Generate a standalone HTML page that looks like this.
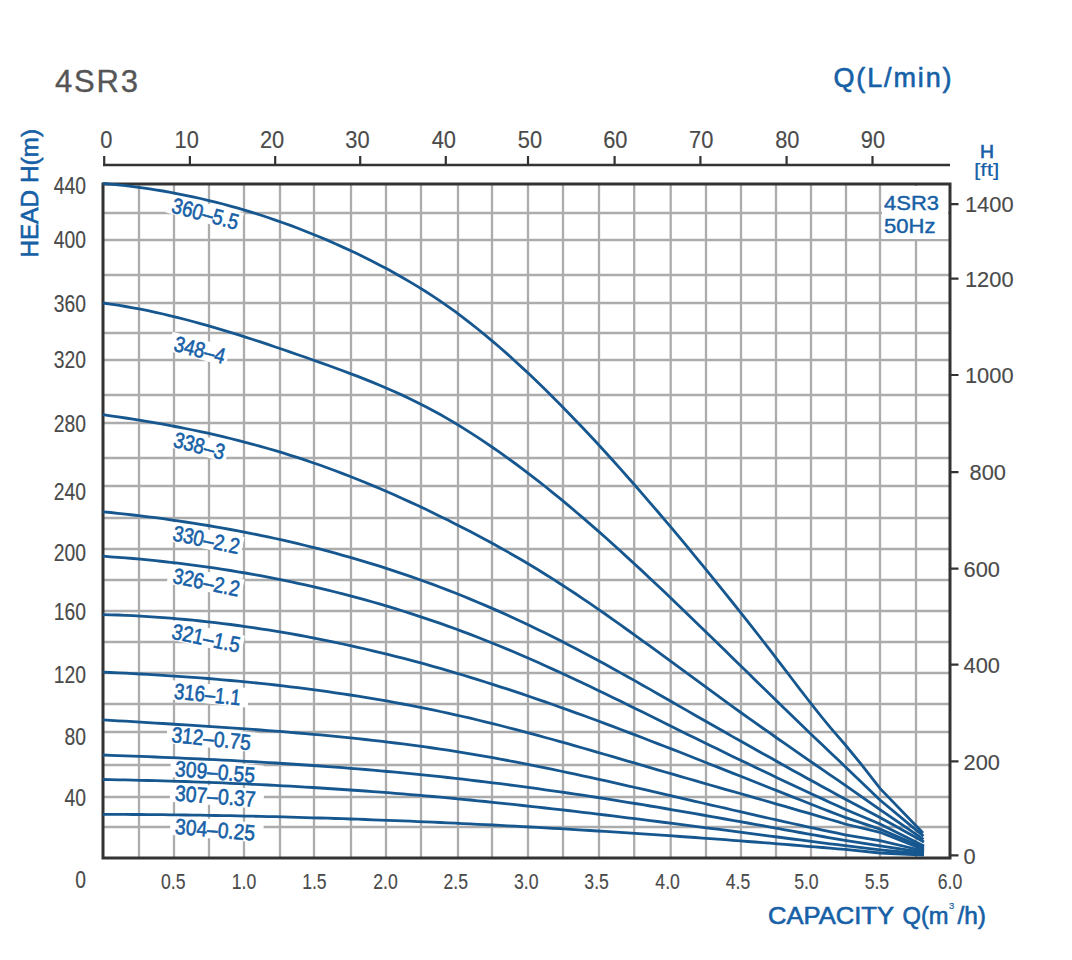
<!DOCTYPE html><html><head><meta charset="utf-8"><style>html,body{margin:0;padding:0;background:#fff;}svg{display:block;}text{font-family:"Liberation Sans",sans-serif;}</style></head><body>
<svg width="1072" height="960" viewBox="0 0 1072 960">
<rect width="1072" height="960" fill="#fff"/>
<path d="M103,213H950 M103,240H950 M103,275H950 M103,303H950 M103,333H950 M103,360H950 M103,395H950 M103,423H950 M103,458H950 M103,486H950 M103,518H950 M103,549H950 M103,580H950 M103,611H950 M103,642H950 M103,673H950 M103,704H950 M103,732H950 M103,765H950 M103,797H950 M103,827H950 M139,184V858 M174,184V858 M209,184V858 M244,184V858 M280,184V858 M314,184V858 M351,184V858 M386,184V858 M421,184V858 M458,184V858 M492,184V858 M528,184V858 M563,184V858 M599,184V858 M634.2,184V858 M670.7,184V858 M706,184V858 M741,184V858 M776,184V858 M811,184V858 M846,184V858 M880,184V858 M916,184V858" stroke="#acacac" stroke-width="2.3" fill="none"/>
<rect x="882" y="186" width="66" height="53" fill="#fff"/>
<g transform="translate(170.5,212.2) rotate(15)"><rect x="-5" y="-18" width="76.2" height="19.5" fill="#fff"/></g><g transform="translate(172.8,350.5) rotate(15)"><rect x="-5" y="-18" width="59.9" height="19.5" fill="#fff"/></g><g transform="translate(172.2,446.4) rotate(15)"><rect x="-5" y="-18" width="60.2" height="19.5" fill="#fff"/></g><g transform="translate(171.8,540.2) rotate(12)"><rect x="-5" y="-18" width="75.5" height="19.5" fill="#fff"/></g><g transform="translate(171.8,582.7) rotate(12)"><rect x="-5" y="-18" width="75.5" height="19.5" fill="#fff"/></g><g transform="translate(170.8,638.4) rotate(12)"><rect x="-5" y="-18" width="77.0" height="19.5" fill="#fff"/></g><g transform="translate(173.6,698.4) rotate(6)"><rect x="-5" y="-18" width="79.6" height="19.5" fill="#fff"/></g><g transform="translate(171.0,742.0) rotate(6)"><rect x="-5" y="-18" width="92.5" height="19.5" fill="#fff"/></g><g transform="translate(174.6,775.9) rotate(5)"><rect x="-5" y="-18" width="93.1" height="19.5" fill="#fff"/></g><g transform="translate(174.6,800.6) rotate(4.5)"><rect x="-5" y="-18" width="93.7" height="19.5" fill="#fff"/></g><g transform="translate(174.6,833.8) rotate(5)"><rect x="-5" y="-18" width="93.1" height="19.5" fill="#fff"/></g>
<rect x="103" y="184" width="847" height="674" fill="none" stroke="#333333" stroke-width="3"/>
<path d="M103.0,183.5 L110.5,184.1 L118.0,184.9 L125.5,185.7 L133.0,186.6 L140.5,187.6 L148.0,188.6 L155.5,189.8 L163.0,191.0 L170.5,192.3 L177.9,193.8 L185.4,195.3 L192.9,196.8 L200.4,198.5 L207.9,200.3 L215.4,202.1 L222.9,204.0 L230.4,206.1 L237.9,208.2 L245.4,210.4 L252.9,212.7 L260.4,215.0 L267.9,217.5 L275.4,220.1 L282.9,222.7 L290.4,225.4 L297.9,228.2 L305.4,231.2 L312.9,234.2 L320.4,237.3 L327.8,240.4 L335.3,243.7 L342.8,247.1 L350.3,250.5 L357.8,254.1 L365.3,257.7 L372.8,261.5 L380.3,265.4 L387.8,269.3 L395.3,273.5 L402.8,277.7 L410.3,282.1 L417.8,286.6 L425.3,291.3 L432.8,296.2 L440.3,301.2 L447.8,306.4 L455.3,311.7 L462.8,317.3 L470.3,323.1 L477.7,329.0 L485.2,335.1 L492.7,341.4 L500.2,347.8 L507.7,354.4 L515.2,361.2 L522.7,368.1 L530.2,375.1 L537.7,382.3 L545.2,389.6 L552.7,397.0 L560.2,404.5 L567.7,412.2 L575.2,420.0 L582.7,427.8 L590.2,435.8 L597.7,443.8 L605.2,452.0 L612.7,460.3 L620.2,468.6 L627.6,477.0 L635.1,485.5 L642.6,494.1 L650.1,502.8 L657.6,511.5 L665.1,520.4 L672.6,529.2 L680.1,538.2 L687.6,547.2 L695.1,556.3 L702.6,565.4 L710.1,574.6 L717.6,583.9 L725.1,593.2 L732.6,602.5 L740.1,611.9 L747.6,621.4 L755.1,630.9 L762.6,640.5 L770.1,650.2 L777.5,659.9 L785.0,669.6 L792.5,679.5 L800.0,689.3 L807.5,699.0 L815.0,708.6 L822.5,718.0 L830.0,727.1 L837.5,735.8 L845.0,744.5 L861.9,765.1 L880.0,788.4 L923.0,833.0" stroke="#16578f" stroke-width="2.8" fill="none"/>
<path d="M103.0,303.0 L110.5,304.1 L118.0,305.2 L125.5,306.5 L133.0,307.8 L140.5,309.2 L148.0,310.7 L155.5,312.3 L163.0,314.0 L170.5,315.8 L177.9,317.6 L185.4,319.5 L192.9,321.5 L200.4,323.6 L207.9,325.7 L215.4,327.9 L222.9,330.1 L230.4,332.4 L237.9,334.7 L245.4,337.1 L252.9,339.5 L260.4,341.9 L267.9,344.4 L275.4,347.0 L282.9,349.5 L290.4,352.1 L297.9,354.7 L305.4,357.3 L312.9,360.0 L320.4,362.6 L327.8,365.3 L335.3,368.0 L342.8,370.8 L350.3,373.6 L357.8,376.4 L365.3,379.4 L372.8,382.4 L380.3,385.5 L387.8,388.7 L395.3,392.0 L402.8,395.4 L410.3,399.0 L417.8,402.7 L425.3,406.5 L432.8,410.5 L440.3,414.6 L447.8,418.9 L455.3,423.3 L462.8,427.9 L470.3,432.6 L477.7,437.4 L485.2,442.4 L492.7,447.5 L500.2,452.7 L507.7,458.1 L515.2,463.5 L522.7,469.1 L530.2,474.8 L537.7,480.6 L545.2,486.5 L552.7,492.6 L560.2,498.7 L567.7,504.9 L575.2,511.2 L582.7,517.6 L590.2,524.1 L597.7,530.6 L605.2,537.3 L612.7,544.0 L620.2,550.8 L627.6,557.6 L635.1,564.5 L642.6,571.4 L650.1,578.5 L657.6,585.5 L665.1,592.6 L672.6,599.8 L680.1,606.9 L687.6,614.2 L695.1,621.4 L702.6,628.7 L710.1,635.9 L717.6,643.2 L725.1,650.6 L732.6,657.9 L740.1,665.2 L747.6,672.5 L755.1,679.9 L762.6,687.2 L770.1,694.5 L777.5,701.8 L785.0,709.1 L792.5,716.3 L800.0,723.6 L807.5,730.8 L815.0,738.0 L822.5,745.1 L830.0,752.3 L837.5,759.3 L845.0,766.4 L880.0,800.0 L923.5,836.2" stroke="#16578f" stroke-width="2.8" fill="none"/>
<path d="M103.0,414.7 L110.5,415.8 L118.0,416.8 L125.5,418.0 L133.0,419.1 L140.5,420.3 L148.0,421.6 L155.5,422.9 L163.0,424.2 L170.5,425.6 L177.9,427.0 L185.4,428.5 L192.9,430.0 L200.4,431.6 L207.9,433.2 L215.4,434.9 L222.9,436.7 L230.4,438.5 L237.9,440.4 L245.4,442.3 L252.9,444.3 L260.4,446.4 L267.9,448.5 L275.4,450.7 L282.9,452.9 L290.4,455.3 L297.9,457.6 L305.4,460.1 L312.9,462.7 L320.4,465.3 L327.8,468.0 L335.3,470.7 L342.8,473.6 L350.3,476.5 L357.8,479.5 L365.3,482.5 L372.8,485.6 L380.3,488.8 L387.8,492.0 L395.3,495.3 L402.8,498.7 L410.3,502.1 L417.8,505.6 L425.3,509.1 L432.8,512.7 L440.3,516.4 L447.8,520.1 L455.3,523.9 L462.8,527.7 L470.3,531.6 L477.7,535.5 L485.2,539.5 L492.7,543.6 L500.2,547.7 L507.7,551.9 L515.2,556.2 L522.7,560.5 L530.2,565.0 L537.7,569.5 L545.2,574.2 L552.7,578.9 L560.2,583.7 L567.7,588.6 L575.2,593.5 L582.7,598.6 L590.2,603.7 L597.7,608.8 L605.2,614.0 L612.7,619.3 L620.2,624.6 L627.6,630.0 L635.1,635.4 L642.6,640.8 L650.1,646.2 L657.6,651.7 L665.1,657.2 L672.6,662.7 L680.1,668.2 L687.6,673.7 L695.1,679.2 L702.6,684.7 L710.1,690.2 L717.6,695.7 L725.1,701.1 L732.6,706.6 L740.1,712.0 L747.6,717.3 L755.1,722.7 L762.6,728.0 L770.1,733.2 L777.5,738.5 L785.0,743.7 L792.5,748.9 L800.0,754.1 L807.5,759.3 L815.0,764.5 L822.5,769.6 L830.0,774.8 L837.5,779.9 L845.0,785.1 L880.0,809.7 L923.5,839.4" stroke="#16578f" stroke-width="2.8" fill="none"/>
<path d="M103.0,511.8 L110.5,512.5 L118.0,513.3 L125.5,514.1 L133.0,515.0 L140.5,515.9 L148.0,516.8 L155.5,517.7 L163.0,518.7 L170.5,519.8 L177.9,520.8 L185.4,522.0 L192.9,523.1 L200.4,524.3 L207.9,525.5 L215.4,526.8 L222.9,528.1 L230.4,529.5 L237.9,530.8 L245.4,532.3 L252.9,533.8 L260.4,535.3 L267.9,536.9 L275.4,538.5 L282.9,540.2 L290.4,541.9 L297.9,543.7 L305.4,545.5 L312.9,547.3 L320.4,549.2 L327.8,551.2 L335.3,553.2 L342.8,555.3 L350.3,557.4 L357.8,559.6 L365.3,561.8 L372.8,564.1 L380.3,566.4 L387.8,568.8 L395.3,571.3 L402.8,573.8 L410.3,576.4 L417.8,579.0 L425.3,581.7 L432.8,584.4 L440.3,587.2 L447.8,590.1 L455.3,593.0 L462.8,596.0 L470.3,599.1 L477.7,602.2 L485.2,605.4 L492.7,608.6 L500.2,611.9 L507.7,615.3 L515.2,618.7 L522.7,622.2 L530.2,625.8 L537.7,629.4 L545.2,633.1 L552.7,636.8 L560.2,640.6 L567.7,644.4 L575.2,648.3 L582.7,652.2 L590.2,656.2 L597.7,660.2 L605.2,664.3 L612.7,668.4 L620.2,672.6 L627.6,676.7 L635.1,680.9 L642.6,685.2 L650.1,689.4 L657.6,693.7 L665.1,698.0 L672.6,702.3 L680.1,706.6 L687.6,710.9 L695.1,715.2 L702.6,719.5 L710.1,723.8 L717.6,728.0 L725.1,732.3 L732.6,736.6 L740.1,740.8 L747.6,745.0 L755.1,749.2 L762.6,753.5 L770.1,757.6 L777.5,761.8 L785.0,766.0 L792.5,770.2 L800.0,774.3 L807.5,778.5 L815.0,782.6 L822.5,786.7 L830.0,790.8 L837.5,794.9 L845.0,799.0 L880.0,817.5 L924.0,842.0" stroke="#16578f" stroke-width="2.8" fill="none"/>
<path d="M103.0,556.2 L110.5,556.8 L118.0,557.3 L125.5,557.9 L133.0,558.5 L140.5,559.2 L148.0,559.9 L155.5,560.7 L163.0,561.5 L170.5,562.3 L177.9,563.2 L185.4,564.1 L192.9,565.1 L200.4,566.1 L207.9,567.1 L215.4,568.2 L222.9,569.3 L230.4,570.5 L237.9,571.8 L245.4,573.0 L252.9,574.4 L260.4,575.7 L267.9,577.1 L275.4,578.6 L282.9,580.1 L290.4,581.7 L297.9,583.3 L305.4,584.9 L312.9,586.6 L320.4,588.4 L327.8,590.2 L335.3,592.0 L342.8,593.9 L350.3,595.9 L357.8,597.9 L365.3,599.9 L372.8,602.0 L380.3,604.2 L387.8,606.4 L395.3,608.7 L402.8,611.0 L410.3,613.4 L417.8,615.8 L425.3,618.3 L432.8,620.8 L440.3,623.4 L447.8,626.1 L455.3,628.8 L462.8,631.6 L470.3,634.4 L477.7,637.3 L485.2,640.2 L492.7,643.2 L500.2,646.3 L507.7,649.4 L515.2,652.5 L522.7,655.8 L530.2,659.0 L537.7,662.3 L545.2,665.7 L552.7,669.1 L560.2,672.5 L567.7,676.0 L575.2,679.5 L582.7,683.0 L590.2,686.6 L597.7,690.2 L605.2,693.8 L612.7,697.4 L620.2,701.1 L627.6,704.8 L635.1,708.4 L642.6,712.1 L650.1,715.8 L657.6,719.5 L665.1,723.2 L672.6,727.0 L680.1,730.7 L687.6,734.4 L695.1,738.1 L702.6,741.7 L710.1,745.4 L717.6,749.1 L725.1,752.7 L732.6,756.4 L740.1,760.0 L747.6,763.6 L755.1,767.2 L762.6,770.8 L770.1,774.3 L777.5,777.9 L785.0,781.4 L792.5,785.0 L800.0,788.5 L807.5,792.0 L815.0,795.5 L822.5,798.9 L830.0,802.4 L837.5,805.8 L845.0,809.3 L880.0,824.0 L924.0,845.9" stroke="#16578f" stroke-width="2.8" fill="none"/>
<path d="M103.0,614.6 L110.5,614.8 L118.0,615.0 L125.5,615.4 L133.0,615.7 L140.5,616.1 L148.0,616.6 L155.5,617.1 L163.0,617.6 L170.5,618.2 L177.9,618.8 L185.4,619.5 L192.9,620.2 L200.4,621.0 L207.9,621.8 L215.4,622.7 L222.9,623.6 L230.4,624.5 L237.9,625.5 L245.4,626.6 L252.9,627.6 L260.4,628.8 L267.9,629.9 L275.4,631.1 L282.9,632.4 L290.4,633.7 L297.9,635.0 L305.4,636.4 L312.9,637.9 L320.4,639.3 L327.8,640.8 L335.3,642.4 L342.8,644.0 L350.3,645.6 L357.8,647.3 L365.3,649.0 L372.8,650.8 L380.3,652.6 L387.8,654.4 L395.3,656.3 L402.8,658.2 L410.3,660.2 L417.8,662.2 L425.3,664.2 L432.8,666.3 L440.3,668.4 L447.8,670.6 L455.3,672.8 L462.8,675.0 L470.3,677.3 L477.7,679.6 L485.2,682.0 L492.7,684.4 L500.2,686.8 L507.7,689.2 L515.2,691.7 L522.7,694.2 L530.2,696.8 L537.7,699.3 L545.2,701.9 L552.7,704.5 L560.2,707.2 L567.7,709.9 L575.2,712.6 L582.7,715.3 L590.2,718.0 L597.7,720.8 L605.2,723.6 L612.7,726.4 L620.2,729.2 L627.6,732.1 L635.1,734.9 L642.6,737.8 L650.1,740.7 L657.6,743.6 L665.1,746.5 L672.6,749.4 L680.1,752.3 L687.6,755.3 L695.1,758.2 L702.6,761.2 L710.1,764.2 L717.6,767.1 L725.1,770.1 L732.6,773.1 L740.1,776.0 L747.6,779.0 L755.1,782.0 L762.6,785.0 L770.1,788.0 L777.5,790.9 L785.0,793.9 L792.5,796.9 L800.0,799.8 L807.5,802.8 L815.0,805.7 L822.5,808.7 L830.0,811.6 L837.5,814.5 L845.0,817.4 L880.0,829.1 L924.0,847.8" stroke="#16578f" stroke-width="2.8" fill="none"/>
<path d="M103.0,672.2 L110.5,672.5 L118.0,672.8 L125.5,673.2 L133.0,673.6 L140.5,674.0 L148.0,674.4 L155.5,674.9 L163.0,675.3 L170.5,675.8 L177.9,676.3 L185.4,676.8 L192.9,677.4 L200.4,677.9 L207.9,678.5 L215.4,679.2 L222.9,679.8 L230.4,680.5 L237.9,681.2 L245.4,681.9 L252.9,682.6 L260.4,683.4 L267.9,684.2 L275.4,685.0 L282.9,685.9 L290.4,686.8 L297.9,687.7 L305.4,688.6 L312.9,689.6 L320.4,690.6 L327.8,691.7 L335.3,692.8 L342.8,693.9 L350.3,695.0 L357.8,696.2 L365.3,697.4 L372.8,698.6 L380.3,699.9 L387.8,701.2 L395.3,702.6 L402.8,704.0 L410.3,705.4 L417.8,706.8 L425.3,708.3 L432.8,709.9 L440.3,711.5 L447.8,713.1 L455.3,714.8 L462.8,716.5 L470.3,718.2 L477.7,720.0 L485.2,721.8 L492.7,723.7 L500.2,725.5 L507.7,727.5 L515.2,729.4 L522.7,731.4 L530.2,733.4 L537.7,735.4 L545.2,737.5 L552.7,739.5 L560.2,741.6 L567.7,743.7 L575.2,745.9 L582.7,748.0 L590.2,750.2 L597.7,752.3 L605.2,754.5 L612.7,756.7 L620.2,758.9 L627.6,761.1 L635.1,763.2 L642.6,765.4 L650.1,767.6 L657.6,769.8 L665.1,772.0 L672.6,774.2 L680.1,776.3 L687.6,778.5 L695.1,780.7 L702.6,782.8 L710.1,785.0 L717.6,787.1 L725.1,789.3 L732.6,791.4 L740.1,793.5 L747.6,795.7 L755.1,797.8 L762.6,800.0 L770.1,802.1 L777.5,804.3 L785.0,806.4 L792.5,808.6 L800.0,810.8 L807.5,812.9 L815.0,815.1 L822.5,817.3 L830.0,819.5 L837.5,821.7 L845.0,824.0 L880.0,832.3 L924.0,849.8" stroke="#16578f" stroke-width="2.8" fill="none"/>
<path d="M103.0,719.8 L110.5,720.3 L118.0,720.8 L125.5,721.2 L133.0,721.7 L140.5,722.2 L148.0,722.6 L155.5,723.1 L163.0,723.5 L170.5,724.0 L177.9,724.5 L185.4,724.9 L192.9,725.4 L200.4,725.9 L207.9,726.4 L215.4,726.9 L222.9,727.4 L230.4,727.9 L237.9,728.4 L245.4,728.9 L252.9,729.4 L260.4,730.0 L267.9,730.6 L275.4,731.1 L282.9,731.7 L290.4,732.3 L297.9,733.0 L305.4,733.6 L312.9,734.3 L320.4,734.9 L327.8,735.6 L335.3,736.4 L342.8,737.1 L350.3,737.9 L357.8,738.7 L365.3,739.5 L372.8,740.3 L380.3,741.2 L387.8,742.1 L395.3,743.0 L402.8,743.9 L410.3,744.9 L417.8,745.9 L425.3,746.9 L432.8,748.0 L440.3,749.1 L447.8,750.2 L455.3,751.4 L462.8,752.6 L470.3,753.8 L477.7,755.1 L485.2,756.4 L492.7,757.7 L500.2,759.1 L507.7,760.5 L515.2,761.9 L522.7,763.4 L530.2,764.9 L537.7,766.4 L545.2,767.9 L552.7,769.4 L560.2,771.0 L567.7,772.6 L575.2,774.2 L582.7,775.8 L590.2,777.4 L597.7,779.1 L605.2,780.7 L612.7,782.4 L620.2,784.1 L627.6,785.8 L635.1,787.5 L642.6,789.2 L650.1,790.9 L657.6,792.7 L665.1,794.4 L672.6,796.1 L680.1,797.8 L687.6,799.6 L695.1,801.3 L702.6,803.0 L710.1,804.8 L717.6,806.5 L725.1,808.2 L732.6,810.0 L740.1,811.7 L747.6,813.4 L755.1,815.1 L762.6,816.8 L770.1,818.5 L777.5,820.2 L785.0,821.8 L792.5,823.5 L800.0,825.2 L807.5,826.8 L815.0,828.4 L822.5,830.1 L830.0,831.7 L837.5,833.2 L845.0,834.8 L880.0,840.7 L924.0,851.0" stroke="#16578f" stroke-width="2.8" fill="none"/>
<path d="M103.0,755.0 L110.5,755.3 L118.0,755.6 L125.5,755.8 L133.0,756.1 L140.5,756.4 L148.0,756.7 L155.5,757.0 L163.0,757.3 L170.5,757.6 L177.9,757.9 L185.4,758.3 L192.9,758.6 L200.4,759.0 L207.9,759.3 L215.4,759.7 L222.9,760.1 L230.4,760.4 L237.9,760.8 L245.4,761.3 L252.9,761.7 L260.4,762.1 L267.9,762.6 L275.4,763.0 L282.9,763.5 L290.4,764.0 L297.9,764.5 L305.4,765.0 L312.9,765.5 L320.4,766.0 L327.8,766.6 L335.3,767.1 L342.8,767.7 L350.3,768.3 L357.8,768.9 L365.3,769.5 L372.8,770.2 L380.3,770.8 L387.8,771.5 L395.3,772.2 L402.8,772.9 L410.3,773.6 L417.8,774.4 L425.3,775.1 L432.8,775.9 L440.3,776.7 L447.8,777.5 L455.3,778.3 L462.8,779.2 L470.3,780.1 L477.7,781.0 L485.2,781.9 L492.7,782.8 L500.2,783.7 L507.7,784.7 L515.2,785.7 L522.7,786.7 L530.2,787.7 L537.7,788.7 L545.2,789.8 L552.7,790.8 L560.2,791.9 L567.7,793.0 L575.2,794.1 L582.7,795.2 L590.2,796.4 L597.7,797.5 L605.2,798.7 L612.7,799.9 L620.2,801.1 L627.6,802.3 L635.1,803.5 L642.6,804.7 L650.1,806.0 L657.6,807.2 L665.1,808.5 L672.6,809.8 L680.1,811.1 L687.6,812.4 L695.1,813.7 L702.6,815.0 L710.1,816.3 L717.6,817.6 L725.1,819.0 L732.6,820.3 L740.1,821.7 L747.6,823.0 L755.1,824.4 L762.6,825.7 L770.1,827.1 L777.5,828.4 L785.0,829.8 L792.5,831.1 L800.0,832.5 L807.5,833.8 L815.0,835.1 L822.5,836.5 L830.0,837.8 L837.5,839.1 L845.0,840.4 L880.0,845.9 L924.0,852.5" stroke="#16578f" stroke-width="2.8" fill="none"/>
<path d="M103.0,779.5 L110.5,779.6 L118.0,779.8 L125.5,779.9 L133.0,780.1 L140.5,780.3 L148.0,780.5 L155.5,780.6 L163.0,780.9 L170.5,781.1 L177.9,781.3 L185.4,781.5 L192.9,781.8 L200.4,782.1 L207.9,782.3 L215.4,782.6 L222.9,782.9 L230.4,783.3 L237.9,783.6 L245.4,783.9 L252.9,784.3 L260.4,784.6 L267.9,785.0 L275.4,785.4 L282.9,785.8 L290.4,786.2 L297.9,786.6 L305.4,787.1 L312.9,787.5 L320.4,788.0 L327.8,788.5 L335.3,789.0 L342.8,789.5 L350.3,790.0 L357.8,790.5 L365.3,791.0 L372.8,791.6 L380.3,792.2 L387.8,792.7 L395.3,793.3 L402.8,793.9 L410.3,794.6 L417.8,795.2 L425.3,795.8 L432.8,796.5 L440.3,797.2 L447.8,797.9 L455.3,798.6 L462.8,799.3 L470.3,800.0 L477.7,800.8 L485.2,801.5 L492.7,802.3 L500.2,803.1 L507.7,803.8 L515.2,804.6 L522.7,805.5 L530.2,806.3 L537.7,807.1 L545.2,808.0 L552.7,808.8 L560.2,809.7 L567.7,810.5 L575.2,811.4 L582.7,812.3 L590.2,813.2 L597.7,814.1 L605.2,815.0 L612.7,815.9 L620.2,816.8 L627.6,817.8 L635.1,818.7 L642.6,819.6 L650.1,820.6 L657.6,821.5 L665.1,822.5 L672.6,823.4 L680.1,824.4 L687.6,825.4 L695.1,826.3 L702.6,827.3 L710.1,828.3 L717.6,829.2 L725.1,830.2 L732.6,831.2 L740.1,832.2 L747.6,833.1 L755.1,834.1 L762.6,835.1 L770.1,836.1 L777.5,837.0 L785.0,838.0 L792.5,839.0 L800.0,839.9 L807.5,840.9 L815.0,841.9 L822.5,842.8 L830.0,843.8 L837.5,844.7 L845.0,845.7 L880.0,849.8 L924.0,854.0" stroke="#16578f" stroke-width="2.8" fill="none"/>
<path d="M103.0,814.3 L110.5,814.4 L118.0,814.4 L125.5,814.4 L133.0,814.5 L140.5,814.5 L148.0,814.6 L155.5,814.7 L163.0,814.7 L170.5,814.8 L177.9,814.9 L185.4,815.0 L192.9,815.1 L200.4,815.2 L207.9,815.3 L215.4,815.5 L222.9,815.6 L230.4,815.7 L237.9,815.9 L245.4,816.1 L252.9,816.2 L260.4,816.4 L267.9,816.6 L275.4,816.7 L282.9,816.9 L290.4,817.1 L297.9,817.3 L305.4,817.6 L312.9,817.8 L320.4,818.0 L327.8,818.2 L335.3,818.5 L342.8,818.7 L350.3,819.0 L357.8,819.2 L365.3,819.5 L372.8,819.8 L380.3,820.1 L387.8,820.3 L395.3,820.6 L402.8,820.9 L410.3,821.2 L417.8,821.6 L425.3,821.9 L432.8,822.2 L440.3,822.5 L447.8,822.9 L455.3,823.2 L462.8,823.6 L470.3,823.9 L477.7,824.3 L485.2,824.7 L492.7,825.0 L500.2,825.4 L507.7,825.8 L515.2,826.2 L522.7,826.6 L530.2,827.0 L537.7,827.4 L545.2,827.9 L552.7,828.3 L560.2,828.7 L567.7,829.2 L575.2,829.6 L582.7,830.1 L590.2,830.5 L597.7,831.0 L605.2,831.4 L612.7,831.9 L620.2,832.4 L627.6,832.9 L635.1,833.4 L642.6,833.9 L650.1,834.4 L657.6,834.9 L665.1,835.4 L672.6,835.9 L680.1,836.5 L687.6,837.0 L695.1,837.5 L702.6,838.1 L710.1,838.6 L717.6,839.2 L725.1,839.7 L732.6,840.3 L740.1,840.9 L747.6,841.5 L755.1,842.0 L762.6,842.6 L770.1,843.2 L777.5,843.8 L785.0,844.4 L792.5,845.0 L800.0,845.6 L807.5,846.3 L815.0,846.9 L822.5,847.5 L830.0,848.1 L837.5,848.8 L845.0,849.4 L880.0,853.0 L924.0,855.0" stroke="#16578f" stroke-width="2.8" fill="none"/>
<g transform="translate(170.5,212.2) rotate(15)"><text x="0" y="0" font-size="22" textLength="68.2" lengthAdjust="spacingAndGlyphs" fill="#1660a6" stroke="#1660a6" stroke-width="0.6">360–5.5</text></g><g transform="translate(172.8,350.5) rotate(15)"><text x="0" y="0" font-size="22" textLength="51.9" lengthAdjust="spacingAndGlyphs" fill="#1660a6" stroke="#1660a6" stroke-width="0.6">348–4</text></g><g transform="translate(172.2,446.4) rotate(15)"><text x="0" y="0" font-size="22" textLength="52.2" lengthAdjust="spacingAndGlyphs" fill="#1660a6" stroke="#1660a6" stroke-width="0.6">338–3</text></g><g transform="translate(171.8,540.2) rotate(12)"><text x="0" y="0" font-size="22" textLength="67.5" lengthAdjust="spacingAndGlyphs" fill="#1660a6" stroke="#1660a6" stroke-width="0.6">330–2.2</text></g><g transform="translate(171.8,582.7) rotate(12)"><text x="0" y="0" font-size="22" textLength="67.5" lengthAdjust="spacingAndGlyphs" fill="#1660a6" stroke="#1660a6" stroke-width="0.6">326–2.2</text></g><g transform="translate(170.8,638.4) rotate(12)"><text x="0" y="0" font-size="22" textLength="69.0" lengthAdjust="spacingAndGlyphs" fill="#1660a6" stroke="#1660a6" stroke-width="0.6">321–1.5</text></g><g transform="translate(173.6,698.4) rotate(6)"><text x="0" y="0" font-size="22" textLength="66.6" lengthAdjust="spacingAndGlyphs" fill="#1660a6" stroke="#1660a6" stroke-width="0.6">316–1.1</text></g><g transform="translate(171.0,742.0) rotate(6)"><text x="0" y="0" font-size="22" textLength="79.5" lengthAdjust="spacingAndGlyphs" fill="#1660a6" stroke="#1660a6" stroke-width="0.6">312–0.75</text></g><g transform="translate(174.6,775.9) rotate(5)"><text x="0" y="0" font-size="22" textLength="80.1" lengthAdjust="spacingAndGlyphs" fill="#1660a6" stroke="#1660a6" stroke-width="0.6">309–0.55</text></g><g transform="translate(174.6,800.6) rotate(4.5)"><text x="0" y="0" font-size="22" textLength="80.7" lengthAdjust="spacingAndGlyphs" fill="#1660a6" stroke="#1660a6" stroke-width="0.6">307–0.37</text></g><g transform="translate(174.6,833.8) rotate(5)"><text x="0" y="0" font-size="22" textLength="80.1" lengthAdjust="spacingAndGlyphs" fill="#1660a6" stroke="#1660a6" stroke-width="0.6">304–0.25</text></g>
<path d="M103,165H950" stroke="#333333" stroke-width="2.5" fill="none"/>
<path d="M104.2,156V165 M189.9,156V165 M275.2,156V165 M360.2,156V165 M445.8,156V165 M528,156V165 M614.6,156V165 M700.4,156V165 M786.6,156V165 M872.5,156V165" stroke="#333333" stroke-width="2.2" fill="none"/>
<text x="106.4" y="148.5" font-size="23" text-anchor="middle" transform="translate(106.4,0) scale(0.95,1) translate(-106.4,0)" fill="#4a4a4a" stroke="#4a4a4a" stroke-width="0.15">0</text>
<text x="186.7" y="148.5" font-size="23" text-anchor="middle" transform="translate(186.7,0) scale(0.95,1) translate(-186.7,0)" fill="#4a4a4a" stroke="#4a4a4a" stroke-width="0.15">10</text>
<text x="272.1" y="148.5" font-size="23" text-anchor="middle" transform="translate(272.1,0) scale(0.95,1) translate(-272.1,0)" fill="#4a4a4a" stroke="#4a4a4a" stroke-width="0.15">20</text>
<text x="357.4" y="148.5" font-size="23" text-anchor="middle" transform="translate(357.4,0) scale(0.95,1) translate(-357.4,0)" fill="#4a4a4a" stroke="#4a4a4a" stroke-width="0.15">30</text>
<text x="443.8" y="148.5" font-size="23" text-anchor="middle" transform="translate(443.8,0) scale(0.95,1) translate(-443.8,0)" fill="#4a4a4a" stroke="#4a4a4a" stroke-width="0.15">40</text>
<text x="530" y="148.5" font-size="23" text-anchor="middle" transform="translate(530,0) scale(0.95,1) translate(-530,0)" fill="#4a4a4a" stroke="#4a4a4a" stroke-width="0.15">50</text>
<text x="615.3" y="148.5" font-size="23" text-anchor="middle" transform="translate(615.3,0) scale(0.95,1) translate(-615.3,0)" fill="#4a4a4a" stroke="#4a4a4a" stroke-width="0.15">60</text>
<text x="701.25" y="148.5" font-size="23" text-anchor="middle" transform="translate(701.25,0) scale(0.95,1) translate(-701.25,0)" fill="#4a4a4a" stroke="#4a4a4a" stroke-width="0.15">70</text>
<text x="787.3" y="148.5" font-size="23" text-anchor="middle" transform="translate(787.3,0) scale(0.95,1) translate(-787.3,0)" fill="#4a4a4a" stroke="#4a4a4a" stroke-width="0.15">80</text>
<text x="872.9" y="148.5" font-size="23" text-anchor="middle" transform="translate(872.9,0) scale(0.95,1) translate(-872.9,0)" fill="#4a4a4a" stroke="#4a4a4a" stroke-width="0.15">90</text>
<path d="M950,204.1H958.5 M950,278.6H958.5 M950,375H958.5 M950,472.2H958.5 M950,568.7H958.5 M950,664.7H958.5 M950,761.3H958.5 M950,855.3H958.5" stroke="#333333" stroke-width="2.2" fill="none"/>
<text x="965" y="212.4" font-size="22.5" transform="translate(965,0) scale(0.97,1) translate(-965,0)" fill="#4a4a4a" stroke="#4a4a4a" stroke-width="0.15">1400</text>
<text x="965" y="286.9" font-size="22.5" transform="translate(965,0) scale(0.97,1) translate(-965,0)" fill="#4a4a4a" stroke="#4a4a4a" stroke-width="0.15">1200</text>
<text x="965" y="383.3" font-size="22.5" transform="translate(965,0) scale(0.97,1) translate(-965,0)" fill="#4a4a4a" stroke="#4a4a4a" stroke-width="0.15">1000</text>
<text x="969.5" y="480.5" font-size="22.5" transform="translate(969.5,0) scale(0.97,1) translate(-969.5,0)" fill="#4a4a4a" stroke="#4a4a4a" stroke-width="0.15">800</text>
<text x="963.5" y="577.0" font-size="22.5" transform="translate(963.5,0) scale(0.97,1) translate(-963.5,0)" fill="#4a4a4a" stroke="#4a4a4a" stroke-width="0.15">600</text>
<text x="963.5" y="673.0" font-size="22.5" transform="translate(963.5,0) scale(0.97,1) translate(-963.5,0)" fill="#4a4a4a" stroke="#4a4a4a" stroke-width="0.15">400</text>
<text x="963.5" y="769.6" font-size="22.5" transform="translate(963.5,0) scale(0.97,1) translate(-963.5,0)" fill="#4a4a4a" stroke="#4a4a4a" stroke-width="0.15">200</text>
<text x="963.5" y="863.6" font-size="22.5" transform="translate(963.5,0) scale(0.97,1) translate(-963.5,0)" fill="#4a4a4a" stroke="#4a4a4a" stroke-width="0.15">0</text>
<text x="86" y="194.5" font-size="23" text-anchor="end" transform="translate(86,0) scale(0.84,1) translate(-86,0)" fill="#4a4a4a" stroke="#4a4a4a" stroke-width="0.15">440</text>
<text x="86" y="247.8" font-size="23" text-anchor="end" transform="translate(86,0) scale(0.84,1) translate(-86,0)" fill="#4a4a4a" stroke="#4a4a4a" stroke-width="0.15">400</text>
<text x="86" y="311.8" font-size="23" text-anchor="end" transform="translate(86,0) scale(0.84,1) translate(-86,0)" fill="#4a4a4a" stroke="#4a4a4a" stroke-width="0.15">360</text>
<text x="86" y="368.4" font-size="23" text-anchor="end" transform="translate(86,0) scale(0.84,1) translate(-86,0)" fill="#4a4a4a" stroke="#4a4a4a" stroke-width="0.15">320</text>
<text x="86" y="432.2" font-size="23" text-anchor="end" transform="translate(86,0) scale(0.84,1) translate(-86,0)" fill="#4a4a4a" stroke="#4a4a4a" stroke-width="0.15">280</text>
<text x="86" y="499.7" font-size="23" text-anchor="end" transform="translate(86,0) scale(0.84,1) translate(-86,0)" fill="#4a4a4a" stroke="#4a4a4a" stroke-width="0.15">240</text>
<text x="86" y="560.8" font-size="23" text-anchor="end" transform="translate(86,0) scale(0.84,1) translate(-86,0)" fill="#4a4a4a" stroke="#4a4a4a" stroke-width="0.15">200</text>
<text x="86" y="619.8" font-size="23" text-anchor="end" transform="translate(86,0) scale(0.84,1) translate(-86,0)" fill="#4a4a4a" stroke="#4a4a4a" stroke-width="0.15">160</text>
<text x="86" y="683.4" font-size="23" text-anchor="end" transform="translate(86,0) scale(0.84,1) translate(-86,0)" fill="#4a4a4a" stroke="#4a4a4a" stroke-width="0.15">120</text>
<text x="86" y="744.8" font-size="23" text-anchor="end" transform="translate(86,0) scale(0.84,1) translate(-86,0)" fill="#4a4a4a" stroke="#4a4a4a" stroke-width="0.15">80</text>
<text x="86" y="805.8" font-size="23" text-anchor="end" transform="translate(86,0) scale(0.84,1) translate(-86,0)" fill="#4a4a4a" stroke="#4a4a4a" stroke-width="0.15">40</text>
<text x="86" y="888.3" font-size="23" text-anchor="end" transform="translate(86,0) scale(0.84,1) translate(-86,0)" fill="#4a4a4a" stroke="#4a4a4a" stroke-width="0.15">0</text>
<text x="173.2" y="888.8" font-size="22" text-anchor="middle" transform="translate(173.2,0) scale(0.8,1) translate(-173.2,0)" fill="#4a4a4a" stroke="#4a4a4a" stroke-width="0.15">0.5</text>
<text x="244" y="888.8" font-size="22" text-anchor="middle" transform="translate(244,0) scale(0.8,1) translate(-244,0)" fill="#4a4a4a" stroke="#4a4a4a" stroke-width="0.15">1.0</text>
<text x="314.4" y="888.8" font-size="22" text-anchor="middle" transform="translate(314.4,0) scale(0.8,1) translate(-314.4,0)" fill="#4a4a4a" stroke="#4a4a4a" stroke-width="0.15">1.5</text>
<text x="385.5" y="888.8" font-size="22" text-anchor="middle" transform="translate(385.5,0) scale(0.8,1) translate(-385.5,0)" fill="#4a4a4a" stroke="#4a4a4a" stroke-width="0.15">2.0</text>
<text x="455.8" y="888.8" font-size="22" text-anchor="middle" transform="translate(455.8,0) scale(0.8,1) translate(-455.8,0)" fill="#4a4a4a" stroke="#4a4a4a" stroke-width="0.15">2.5</text>
<text x="526.3" y="888.8" font-size="22" text-anchor="middle" transform="translate(526.3,0) scale(0.8,1) translate(-526.3,0)" fill="#4a4a4a" stroke="#4a4a4a" stroke-width="0.15">3.0</text>
<text x="596.6" y="888.8" font-size="22" text-anchor="middle" transform="translate(596.6,0) scale(0.8,1) translate(-596.6,0)" fill="#4a4a4a" stroke="#4a4a4a" stroke-width="0.15">3.5</text>
<text x="667.6" y="888.8" font-size="22" text-anchor="middle" transform="translate(667.6,0) scale(0.8,1) translate(-667.6,0)" fill="#4a4a4a" stroke="#4a4a4a" stroke-width="0.15">4.0</text>
<text x="738" y="888.8" font-size="22" text-anchor="middle" transform="translate(738,0) scale(0.8,1) translate(-738,0)" fill="#4a4a4a" stroke="#4a4a4a" stroke-width="0.15">4.5</text>
<text x="806.4" y="888.8" font-size="22" text-anchor="middle" transform="translate(806.4,0) scale(0.8,1) translate(-806.4,0)" fill="#4a4a4a" stroke="#4a4a4a" stroke-width="0.15">5.0</text>
<text x="876.9" y="888.8" font-size="22" text-anchor="middle" transform="translate(876.9,0) scale(0.8,1) translate(-876.9,0)" fill="#4a4a4a" stroke="#4a4a4a" stroke-width="0.15">5.5</text>
<text x="950" y="888.8" font-size="22" text-anchor="middle" transform="translate(950,0) scale(0.8,1) translate(-950,0)" fill="#4a4a4a" stroke="#4a4a4a" stroke-width="0.15">6.0</text>
<text x="55" y="92" font-size="31" fill="#555555" stroke="#555555" stroke-width="0.35" textLength="83" lengthAdjust="spacing">4SR3</text>
<text x="833.5" y="86.5" font-size="27" fill="#1660a6" stroke="#1660a6" stroke-width="0.6" textLength="118" lengthAdjust="spacing">Q(L/min)</text>
<text x="980" y="157.7" font-size="17.5" fill="#1660a6" stroke="#1660a6" stroke-width="0.6" textLength="14" lengthAdjust="spacingAndGlyphs">H</text>
<text x="974" y="176" font-size="17.5" fill="#1660a6" stroke="#1660a6" stroke-width="0.1" textLength="25.5" lengthAdjust="spacingAndGlyphs">[ft]</text>
<text x="884" y="210.4" font-size="19.5" fill="#1660a6" stroke="#1660a6" stroke-width="0.4" textLength="55" lengthAdjust="spacingAndGlyphs">4SR3</text>
<text x="884" y="232.6" font-size="19.5" fill="#1660a6" stroke="#1660a6" stroke-width="0.4" textLength="51.5" lengthAdjust="spacingAndGlyphs">50Hz</text>
<text transform="translate(37.5,257.5) rotate(-90)" x="0" y="0" font-size="24" fill="#1660a6" stroke="#1660a6" stroke-width="0.6" textLength="128.5" lengthAdjust="spacingAndGlyphs">HEAD H(m)</text>
<text x="768" y="924.1" font-size="23.5" fill="#1660a6" stroke="#1660a6" stroke-width="0.6" textLength="126" lengthAdjust="spacingAndGlyphs">CAPACITY</text>
<text x="902.5" y="924.1" font-size="23.5" fill="#1660a6" stroke="#1660a6" stroke-width="0.6" textLength="46" lengthAdjust="spacingAndGlyphs">Q(m</text>
<text x="949" y="908.5" font-size="9.5" fill="#1660a6" stroke="#1660a6" stroke-width="0.2">3</text>
<text x="957.5" y="924.1" font-size="23.5" fill="#1660a6" stroke="#1660a6" stroke-width="0.6" textLength="28.5" lengthAdjust="spacingAndGlyphs">/h)</text>
</svg></body></html>
